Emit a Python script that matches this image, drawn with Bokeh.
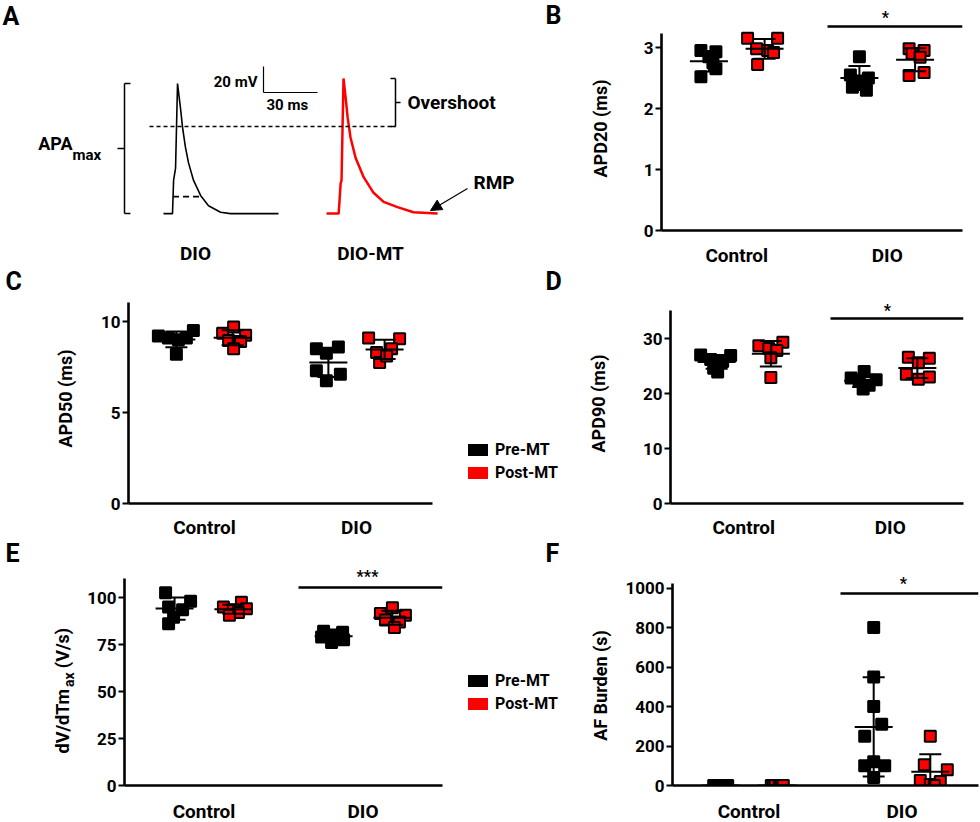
import numpy as np
from bokeh.plotting import figure
from bokeh.layouts import row, column
from bokeh.models import Range1d, FixedTicker, Label, Legend, LegendItem, Arrow, NormalHead
from bokeh.embed import file_html
from bokeh.resources import INLINE

# ---------------- data ----------------
categories = ["Control", "DIO"]
conditions = ["Pre-MT", "Post-MT"]

# Panel A: representative action potentials (time in ms, membrane potential in mV)
dio_t = [0, 5.0, 5.6, 6.7, 7.8, 9.4, 10.6, 12.2, 13.9, 16.7, 20.6, 25.0, 31.7, 37.2, 63.9]
dio_v = [-67, -67, -41.5, -32, 33, 14.6, -0.8, -16, -28, -41.5, -53, -61, -66, -67, -67]
diomt_t = [0, 6.7, 7.2, 7.8, 8.3, 9.4, 10.6, 11.7, 13.3, 16.1, 20.6, 26.1, 31.7, 39.4, 48.3, 61.7]
diomt_v = [-67, -67, -57, -44, -41.5, 37, 22, 7, -8.5, -24, -39, -51, -58, -62, -66, -67]
apd_level_mv = -54
scale_bar_mv = 20
scale_bar_ms = 30

# Panel B: APD20 (ms)
apd20_ctrl_pre = [2.95, 2.93, 2.85, 2.75, 2.65, 2.52]
apd20_ctrl_post = [3.15, 3.15, 2.98, 2.95, 2.92, 2.72]
apd20_dio_pre = [2.85, 2.55, 2.50, 2.45, 2.35, 2.30]
apd20_dio_post = [2.98, 2.95, 2.90, 2.84, 2.59, 2.54]
apd20_ticks = [0, 1, 2, 3]

# Panel C: APD50 (ms)
apd50_ctrl_pre = [9.2, 9.1, 9.0, 9.1, 9.5, 8.2]
apd50_ctrl_post = [9.7, 9.35, 9.25, 8.95, 8.9, 8.5]
apd50_dio_pre = [8.5, 8.6, 8.25, 7.3, 7.1, 6.75]
apd50_dio_post = [9.1, 9.05, 8.3, 8.5, 7.75, 8.1]
apd50_ticks = [0, 5, 10]

# Panel D: APD90 (ms)
apd90_ctrl_pre = [27.0, 26.9, 26.2, 25.8, 24.6, 23.9]
apd90_ctrl_post = [28.7, 29.3, 28.2, 27.8, 26.5, 22.9]
apd90_dio_pre = [24.0, 22.8, 22.5, 22.2, 21.5, 20.8]
apd90_dio_post = [26.6, 26.4, 25.6, 23.5, 23.0, 22.6]
apd90_ticks = [0, 10, 20, 30]

# Panel E: dV/dTmax (V/s)
dvdt_ctrl_pre = [102.5, 98, 95, 93.5, 89.5, 86]
dvdt_ctrl_post = [97.5, 95, 94, 93.5, 92, 90.5]
dvdt_dio_pre = [82, 81.5, 80, 79, 77.5, 76]
dvdt_dio_post = [94.5, 91.5, 90.5, 88, 87, 84]
dvdt_ticks = [0, 25, 50, 75, 100]

# Panel F: AF burden (s)
af_ctrl_pre = [0, 0, 0, 0, 0, 0]
af_ctrl_post = [0, 0, 0, 0, 0, 0]
af_dio_pre = [800, 550, 400, 310, 250, 120, 100, 100, 40]
af_dio_post = [250, 105, 80, 25, 20, 5, 0]
af_ticks = [0, 200, 400, 600, 800, 1000]

# horizontal scatter of the points (px)
apd20_jit = [[-8, 7, 0, 4, 7, -8], [-17, 13, -8, 3, 9, -7], [0, -9, 9, 0, -7, 7], [-6, 9, -3, 5, 9, -6]]
apd50_jit = [[-18, -8, 2, 10, 17, 0], [1, -10, 13, -4, 8, 1], [-12, 10, -2, -12, 12, -2], [-16, 15, -8, 7, -5, 2]]
apd90_jit = [[-16, 14, -6, 6, -3, 1], [-12, 12, -2, 6, 0, 0], [1, -12, 13, -4, 6, 0], [-9, 12, 1, -11, 12, 1]]
dvdt_jit = [[-9, 16, -6, 8, -1, -6], [8, -10, 13, 0, 5, -4], [-10, 9, 0, -12, 10, -2], [0, -12, 13, -7, 7, 2]]
af_jit = [[-7, -4, -1, 2, 5, 7], [-6, -4, -2, 2, 4, 6], [0, 0, 0, 8, -9, 0, -9, 11, 0], [0, -6, 17, -10, 10, 0, 4]]

# ---------------- styling helpers ----------------
FONT = "Roboto"
RED = "#ff0000"
FILLS = ["black", RED]
SUB = 0.185
AXIS_BOTTOM = 11  # room kept under each x axis line (holds the lower half of the "0" tick label)
CAT_SIZE = 19
LETTER_Y = 15


def px(v):
    return f"{v}px"


def add_text(p, x, y, text, size, align="left", baseline="middle", angle=0.0, bold=True):
    p.add_layout(Label(x=x, y=y, text=text, text_font=FONT,
                       text_font_style="bold" if bold else "normal",
                       text_font_size=px(size), text_align=align,
                       text_baseline=baseline, angle=angle, text_color="black"))


def bare_figure(W, H, x_range, y_range, left=0, right=0):
    p = figure(frame_width=W, frame_height=H, x_range=x_range, y_range=y_range,
               min_border_left=left, min_border_right=right, min_border_top=0, min_border_bottom=0,
               x_axis_type=None, y_axis_type=None, toolbar_location=None, output_backend="svg")
    p.outline_line_color = None
    p.grid.visible = False
    return p


def text_strip(W, H):
    """blank strip whose coordinates are pixels measured from its top-left corner"""
    return bare_figure(W, H, Range1d(0, W), Range1d(H, 0))


def dot_panel(W, H, fl, fr, fb, ypp, axis_top, yticks, groups, jits, cat_dy):
    xppu = (fr - fl) / 2.0

    def dx(p_x):
        return 0.5 + (p_x - fl) / xppu

    def dy(p_y):
        return (fb - p_y) / ypp

    p = figure(frame_width=fr - fl, frame_height=fb, x_range=Range1d(0.5, 2.5),
               y_range=Range1d(0, fb / ypp),
               min_border_left=fl, min_border_right=W - fr, min_border_top=0,
               min_border_bottom=AXIS_BOTTOM, toolbar_location=None, output_backend="svg")
    p.outline_line_color = None
    p.grid.visible = False

    series = []
    for k, vals in enumerate(groups):
        g = 1 + k // 2
        cond = k % 2
        xc = g + (-SUB if cond == 0 else SUB)
        series.append((xc, cond, vals, jits[k]))
    for xc, cond, vals, jit in series:
        xs = [xc + j / xppu for j in jit]
        p.scatter(xs, vals, marker="square", size=11, fill_color=FILLS[cond],
                  line_color="black", line_width=2)
    for xc, cond, vals, jit in series:
        m = float(np.mean(vals))
        s = float(np.std(vals, ddof=1))
        hw = 19 / xppu
        cw = 11 / xppu
        p.segment(x0=[xc - hw, xc, xc - cw, xc - cw], y0=[m, m - s, m + s, m - s],
                  x1=[xc + hw, xc, xc + cw, xc + cw], y1=[m, m + s, m + s, m - s],
                  line_color="black", line_width=2)

    p.xaxis.ticker = FixedTicker(ticks=[])
    p.yaxis.ticker = FixedTicker(ticks=yticks)
    p.yaxis.bounds = (0, axis_top)
    for ax in p.axis:
        ax.axis_line_width = 2.6
        ax.axis_line_color = "black"
        ax.major_tick_line_width = 2
        ax.major_tick_line_color = "black"
        ax.minor_tick_line_color = None
        ax.major_label_text_font = FONT
        ax.major_label_text_font_style = "bold"
        ax.major_label_text_color = "black"
    p.xaxis.major_tick_out = 0
    p.xaxis.major_tick_in = 0
    p.xaxis.major_label_standoff = 0
    p.yaxis.major_tick_out = 6
    p.yaxis.major_tick_in = 0
    p.yaxis.major_label_standoff = 2
    p.yaxis.major_label_text_font_size = px(17)

    # category names under the x axis, on the same x scale as the panel
    ch = H - fb - AXIS_BOTTOM
    cats = bare_figure(fr - fl, ch, Range1d(0.5, 2.5), Range1d(ch, 0), left=fl, right=W - fr)
    cy_txt = min(cat_dy - AXIS_BOTTOM, ch - 0.59 * CAT_SIZE)
    for k, name in enumerate(categories):
        add_text(cats, k + 1, cy_txt, name, CAT_SIZE, align="center")
    return p, cats, dx, dy


def sig_bar(p, dx, dy, x0_px, y_px, star_x_px, star_y_px, stars):
    p.line([dx(x0_px), 2.5], [dy(y_px), dy(y_px)], line_color="black", line_width=2.6)
    add_text(p, dx(star_x_px), dy(star_y_px), stars, 16, align="center")


def legend_block(p, top):
    nan = float("nan")
    r_pre = p.rect(x=[nan], y=[nan], width=1, height=1, fill_color="black", line_color=None)
    r_post = p.rect(x=[nan], y=[nan], width=1, height=1, fill_color=RED, line_color=None)
    H = p.frame_height
    leg = Legend(items=[LegendItem(label=conditions[0], renderers=[r_pre]),
                        LegendItem(label=conditions[1], renderers=[r_post])],
                 location=(3, H - top - 43), orientation="vertical",
                 glyph_width=25, glyph_height=15, label_height=20,
                 label_standoff=5, spacing=3, padding=0, margin=0,
                 border_line_color=None, background_fill_alpha=0,
                 label_text_font=FONT, label_text_font_style="bold",
                 label_text_font_size=px(16), label_text_color="black")
    p.add_layout(leg)


# ---------------- Row 1: panel A, strip with B letter / label, panel B ----------------
A_W, A_H = 530, 266
PX_MS, PX_MV = 1.8, 1.3
T0_PX, V0_PX = 163, 126
RED_SHIFT_MS = 90.6


def at(p_x):
    return (p_x - T0_PX) / PX_MS


def av(p_y):
    return (V0_PX - p_y) / PX_MV


pA = bare_figure(A_W, A_H, Range1d(at(0), at(A_W)), Range1d(av(A_H), av(0)))

pA.line(dio_t, dio_v, line_color="black", line_width=1.6)
pA.line([t + RED_SHIFT_MS for t in diomt_t], diomt_v, line_color=RED, line_width=2.5)

pk = int(np.argmax(dio_v))
t_rise = float(np.interp(apd_level_mv, dio_v[1:pk + 1], dio_t[1:pk + 1]))
t_fall = float(np.interp(apd_level_mv, dio_v[pk:][::-1], dio_t[pk:][::-1]))
pA.line([t_rise, t_fall], [apd_level_mv, apd_level_mv], line_color="black", line_width=1.7,
        line_dash="6 4")

pA.line([at(149), at(395)], [0, 0], line_color="black", line_width=1.5, line_dash="4 3")

vmax, vmin = max(dio_v), min(dio_v)
xb = at(124)
pA.multi_line([[xb, xb], [xb, xb + 3.3], [xb, xb + 3.3], [xb - 3.9, xb]],
              [[vmin, vmax], [vmax, vmax], [vmin, vmin], [(vmin + vmax) / 2] * 2],
              line_color="black", line_width=1.5)

omax = max(diomt_v)
xo = at(395)
pA.multi_line([[xo, xo], [xo - 2.8, xo], [xo - 2.8, xo], [xo, xo + 2.8]],
              [[0, omax], [omax, omax], [0, 0], [omax / 2] * 2],
              line_color="black", line_width=1.5)

xs0, vs0 = at(263), av(92)
pA.multi_line([[xs0, xs0], [xs0, xs0 + scale_bar_ms]],
              [[vs0, vs0 + scale_bar_mv], [vs0, vs0]], line_color="black", line_width=1.2)

pA.add_layout(Arrow(end=NormalHead(size=11, fill_color="black", line_color="black"),
                    x_start=at(467), y_start=av(188), x_end=at(430), y_end=av(210),
                    line_color="black", line_width=1.2))

add_text(pA, at(257), av(81), f"{scale_bar_mv} mV", 15, align="right")
add_text(pA, at(266), av(104), f"{scale_bar_ms} ms", 15)
add_text(pA, at(407), av(102), "Overshoot", 19)
add_text(pA, at(473), av(182), "RMP", 19)
add_text(pA, at(72), av(143), "APA", 18, align="right")
add_text(pA, at(72), av(154), "max", 15)
add_text(pA, at(195), av(253), "DIO", 19, align="center")
add_text(pA, at(370), av(253), "DIO-MT", 19, align="center")
add_text(pA, at(2), av(16), "A", 25)

sB = text_strip(85, 266)
add_text(sB, 15, LETTER_Y, "B", 25)
add_text(sB, 70, 128, "APD20 (ms)", 18, align="center", angle=np.pi / 2)

pB, cB, bx, by = dot_panel(365, 266, 46, 347, 230, 61, (230 - 33) / 61, apd20_ticks,
                           [apd20_ctrl_pre, apd20_ctrl_post, apd20_dio_pre, apd20_dio_post],
                           apd20_jit, 28)
sig_bar(pB, bx, by, 212, 26, 270, 17, "*")

# ---------------- Row 2: C, legend, D ----------------
sC = text_strip(80, 272)
add_text(sC, 5, LETTER_Y, "C", 25)
add_text(sC, 65, 132, "APD50 (ms)", 18, align="center", angle=np.pi / 2)

pC, cC, cx, cy = dot_panel(382, 272, 48, 352, 237, 18.2, (503 - 302) / 18.2, apd50_ticks,
                           [apd50_ctrl_pre, apd50_ctrl_post, apd50_dio_pre, apd50_dio_post],
                           apd50_jit, 27)

sD = text_strip(153, 272)
legend_block(sD, 173)
add_text(sD, 83, LETTER_Y, "D", 25)
add_text(sD, 136, 137, "APD90 (ms)", 18, align="center", angle=np.pi / 2)

pD, cD, ddx, ddy = dot_panel(365, 272, 55, 348, 237, 5.5, (503 - 310) / 5.5, apd90_ticks,
                             [apd90_ctrl_pre, apd90_ctrl_post, apd90_dio_pre, apd90_dio_post],
                             apd90_jit, 25)
sig_bar(pD, ddx, ddy, 215, 52, 272, 44, "*")

# ---------------- Row 3: E, legend, F ----------------
sE = text_strip(80, 284)
add_text(sE, 5, LETTER_Y, "E", 25)
add_text(sE, 62, 215, "dV/dTm", 18, align="left", angle=np.pi / 2)
add_text(sE, 68, 215 - 66.6, "ax", 14, align="left", angle=np.pi / 2)
add_text(sE, 62, 215 - 66.6 - 14.6 - 4.0, "(V/s)", 18, align="left", angle=np.pi / 2)

pE, cE, ex, ey = dot_panel(382, 284, 44, 362, 247, 1.88, (785 - 578) / 1.88, dvdt_ticks,
                           [dvdt_ctrl_pre, dvdt_ctrl_post, dvdt_dio_pre, dvdt_dio_post],
                           dvdt_jit, 28)
sig_bar(pE, ex, ey, 218, 49, 287, 38, "***")

sF = text_strip(153, 284)
legend_block(sF, 132.5)
add_text(sF, 83, LETTER_Y, "F", 25)
add_text(sF, 138, 147, "AF Burden (s)", 18, align="center", angle=np.pi / 2)

pF, cF, fx, fy = dot_panel(365, 284, 57, 363, 247, 0.1975, (785 - 583) / 0.1975, af_ticks,
                           [af_ctrl_pre, af_ctrl_post, af_dio_pre, af_dio_post], af_jit, 27)
sig_bar(pF, fx, fy, 225, 55, 288, 45, "*")

layout = column(row(pA, sB, column(pB, cB)),
                row(sC, column(pC, cC), sD, column(pD, cD)),
                row(sE, column(pE, cE), sF, column(pF, cF)))

with open("out.html", "w") as f:
    f.write(file_html(layout, INLINE))
